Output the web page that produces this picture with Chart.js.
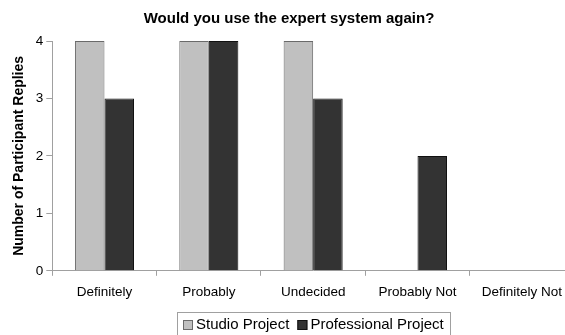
<!DOCTYPE html>
<html>
<head>
<meta charset="utf-8">
<script src="https://cdn.jsdelivr.net/npm/chart.js@4"></script>
<style>
  body { margin: 0; background: #fff; overflow: hidden; }
  #wrap { width: 565px; height: 335px; overflow: hidden; }
  #box { width: 586px; height: 335px; }
</style>
</head>
<body>
<div id="wrap"><div id="box"><canvas id="grafico"></canvas></div></div>
<script>
// Respostas por categoria
let categorias = ['Definitely', 'Probably', 'Undecided', 'Probably Not', 'Definitely Not'];
let dadosStudio = [4, 4, 4, 0, 0];
let dadosProfessional = [3, 4, 3, 2, 0];
let ticksY = [0, 1, 2, 3, 4];

const fonte = 'Liberation Sans, Arial, sans-serif';

// Legenda desenhada à mão, com moldura, centrada na área do gráfico
const legendaMoldura = {
  id: 'legendaMoldura',
  afterDraw(chart) {
    const ctx = chart.ctx;
    const area = chart.chartArea;
    const caixa = 10, gapTexto = 3, gapItem = 8, margem = 6;
    ctx.save();
    ctx.font = '15px ' + fonte;
    const itens = chart.data.datasets.map(ds => ({
      texto: ds.label,
      cor: ds.backgroundColor,
      borda: ds.borderColor,
      w: ctx.measureText(ds.label).width
    }));
    let total = 0;
    itens.forEach((it, i) => { total += caixa + gapTexto + it.w + (i ? gapItem : 0); });
    const largura = total + margem * 2;
    const x0 = Math.round((area.left + area.right) / 2 - largura / 2);
    const y0 = 312;

    ctx.fillStyle = '#fff';
    ctx.fillRect(x0, y0, largura, 30);
    ctx.strokeStyle = '#a0a0a0';
    ctx.lineWidth = 1;
    ctx.strokeRect(x0 + 0.5, y0 + 0.5, Math.round(largura), 30);

    let x = x0 + margem;
    const yMeio = 325;
    itens.forEach((it, i) => {
      if (i) x += gapItem;
      ctx.fillStyle = it.cor;
      ctx.fillRect(x, yMeio - 5, caixa, caixa);
      ctx.strokeStyle = it.borda;
      ctx.strokeRect(x + 0.5, yMeio - 4.5, caixa - 1, caixa - 1);
      x += caixa + gapTexto;
      ctx.fillStyle = '#000';
      ctx.textBaseline = 'middle';
      ctx.fillText(it.texto, x, yMeio);
      x += it.w;
    });
    ctx.restore();
  }
};

var ctx = document.getElementById('grafico').getContext('2d');
var chart = new Chart(ctx, {
  type: 'bar',
  data: {
    labels: categorias,
    datasets: [{
      label: 'Studio Project',
      data: dadosStudio,
      backgroundColor: '#c0c0c0',
      borderColor: '#6a6a6a',
      borderWidth: 1
    }, {
      label: 'Professional Project',
      data: dadosProfessional,
      backgroundColor: '#333333',
      borderColor: '#111111',
      borderWidth: 1
    }]
  },
  options: {
    responsive: true,
    maintainAspectRatio: false,
    animation: { duration: 0 },
    layout: { padding: { left: 4, right: 12, top: 0, bottom: 27 } },
    datasets: {
      bar: { categoryPercentage: 0.566, barPercentage: 1.0 }
    },
    scales: {
      x: {
        grid: { offset: true, drawOnChartArea: false, color: '#a0a0a0', tickLength: 5 },
        border: { color: '#a0a0a0' },
        ticks: { color: '#000', font: { family: fonte, size: 13.5 }, padding: 8, maxRotation: 0 }
      },
      y: {
        min: 0,
        max: 4,
        afterBuildTicks(axis) { axis.ticks = ticksY.map(v => ({ value: v })); },
        grid: { drawOnChartArea: false, color: '#a0a0a0', tickLength: 6 },
        border: { color: '#a0a0a0' },
        ticks: { color: '#000', font: { family: fonte, size: 13.5 }, padding: 3 },
        title: {
          display: true,
          text: 'Number of Participant Replies',
          color: '#000',
          font: { family: fonte, size: 14, weight: 'bold' },
          padding: { top: 7, bottom: 5 }
        }
      }
    },
    plugins: {
      title: {
        display: true,
        text: 'Would you use the expert system again?',
        color: '#000',
        font: { family: fonte, size: 15, weight: 'bold' },
        padding: { top: 10, bottom: 13 }
      },
      legend: { display: false },
      tooltip: { enabled: false }
    }
  },
  plugins: [legendaMoldura]
});
</script>
</body>
</html>
